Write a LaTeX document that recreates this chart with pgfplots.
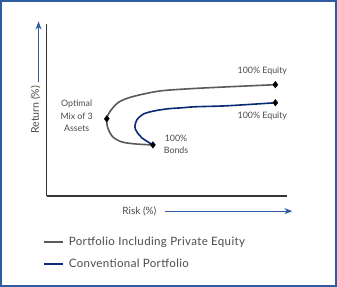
\documentclass[border=0pt]{standalone}
\usepackage{pgfplots}
\pgfplotsset{compat=1.18}
\usepackage{fontspec}
\setmainfont{Lato}
\newfontfamily\legfont[LetterSpace=3]{Lato}
\usetikzlibrary{arrows.meta}
\definecolor{framebl}{HTML}{2E5C9E}
\definecolor{arrbl}{HTML}{2A5AA8}
\definecolor{convbl}{HTML}{0A2A78}
\definecolor{pegray}{HTML}{5A5A5A}
\definecolor{txtgray}{HTML}{4A4A4A}
\begin{document}
\begin{tikzpicture}[x=1pt,y=1pt]
\draw[framebl, line width=1.8pt] (1.5,1.5) rectangle (335.5,285.5);
\begin{axis}[
  at={(47pt,91pt)}, anchor=origin,
  scale only axis, width=240pt, height=171pt,
  xmin=0, xmax=240, ymin=0, ymax=171,
  axis lines*=left, axis line style={color=black!80, line width=1.3pt},
  xtick=\empty, ytick=\empty,
  clip=false,
  font=\fontsize{8.8}{10}\selectfont, text=txtgray,
  legend style={at={(-4/240,-39/171)}, anchor=north west, draw=none, fill=none,
    inner sep=0pt, row sep=8pt, font=\legfont\fontsize{11.5}{13}\selectfont, text=txtgray,
    nodes={inner xsep=5pt}},
  legend cell align=left,
  legend image code/.code={\draw[#1, line width=2pt] (0pt,0pt) -- (19pt,0pt);},
]
\addlegendimage{pegray}
\addlegendentry{Portfolio Including Private Equity}
\addlegendimage{convbl}
\addlegendentry{Conventional Portfolio}
\addplot[pegray, line width=1.6pt, smooth, tension=0.5, forget plot] coordinates {
 (106,51) (88,52) (75,54) (66,59) (61,68) (60,77) (63,84) (71,93) (82,98) (98,102) (115,105) (143,107) (183,109) (228,111)};
\addplot[convbl, line width=1.6pt, smooth, tension=0.5, forget plot] coordinates {
 (106,51) (101,54) (95,58) (90,64) (88,69) (90,76) (97,82) (108,85) (121,87) (135,88) (148,89) (180,90) (228,93)};
\addplot[only marks, mark=diamond*, mark size=3.3pt, black, forget plot] coordinates {
 (106,51) (60,77) (228,111) (228,93)};
\node at (axis cs:215,125) {100\% Equity};
\node at (axis cs:215,80) {100\% Equity};
\node[align=center, font=\fontsize{8.8}{12}\selectfont] at (axis cs:30,80) {Optimal\\Mix of 3\\Assets};
\node[align=center, font=\fontsize{8.8}{12}\selectfont] at (axis cs:129,52) {100\%\\Bonds};
\node[rotate=90, font=\fontsize{10.5}{12}\selectfont] at (axis cs:-11,86) {Return (\%)};
\draw[arrbl, line width=1.1pt, -{Stealth[length=8pt,width=6pt]}] (axis cs:-8,114) -- (axis cs:-8,174);
\node[font=\fontsize{10}{12}\selectfont] at (axis cs:92.5,-15) {Risk (\%)};
\draw[arrbl, line width=1.1pt, -{Stealth[length=8pt,width=6pt]}] (axis cs:118,-15) -- (axis cs:245,-15);
\end{axis}
\end{tikzpicture}
\end{document}
